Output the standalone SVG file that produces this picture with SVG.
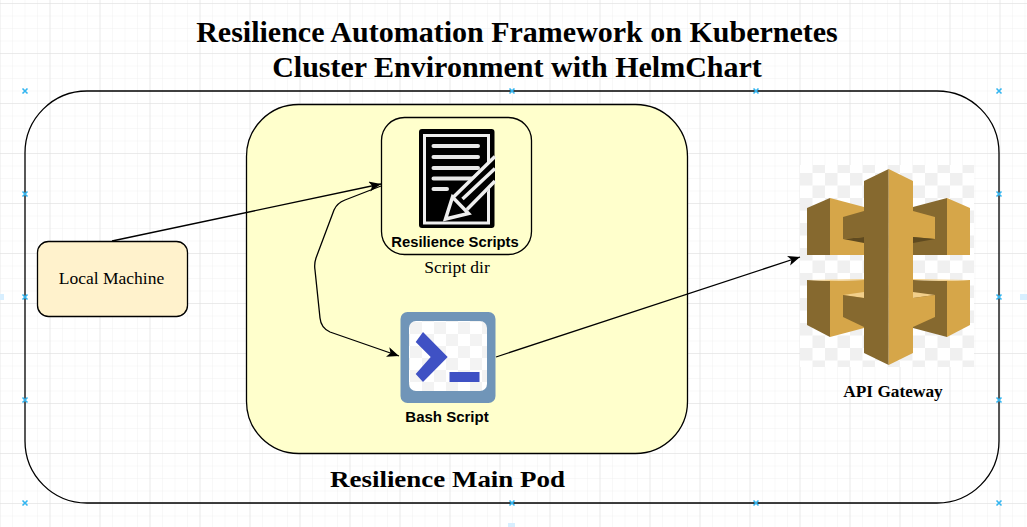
<svg xmlns="http://www.w3.org/2000/svg" width="1027" height="527" viewBox="0 0 1027 527">
<style>
.shape{stroke:#000;stroke-width:1.3}
.serif{font-family:"Liberation Serif","Times New Roman",serif;fill:#000}
.sans{font-family:"Liberation Sans",Arial,sans-serif;font-weight:700;fill:#000}
.title{font-size:30px;font-weight:700;text-anchor:middle}
.mid{text-anchor:middle}
.conn{fill:none;stroke:#000;stroke-width:1.3;marker-end:url(#arrow)}
.x{stroke:#33b5f0;stroke-width:1.6;fill:none}
.dark{fill:#86692f}
.light{fill:#d6a649}
.shadow{fill:#5f4a20}
.glow{fill:#f2cf8a}
.pen{fill:none;stroke:#efefef;stroke-width:3.5}
.faint{fill:#d8efff}
</style>
<defs>
<pattern id="minor" width="12.5" height="12.5" patternUnits="userSpaceOnUse" x="-0.5" y="3">
<path d="M0 0H12.5M0 0V12.5" fill="none" stroke="#f1f1f1" stroke-width="1"/>
</pattern>
<pattern id="major" width="50" height="50" patternUnits="userSpaceOnUse" x="-0.5" y="3">
<path d="M0 0H50M0 0V50" fill="none" stroke="#dedede" stroke-width="1"/>
</pattern>
<pattern id="check" width="25" height="25" patternUnits="userSpaceOnUse" x="800" y="173">
<rect width="25" height="25" fill="#fff"/>
<rect width="12.5" height="12.5" fill="#f0f0f0"/>
<rect x="12.500" y="12.500" width="12.5" height="12.5" fill="#f0f0f0"/>
</pattern>
<pattern id="check2" width="24" height="24" patternUnits="userSpaceOnUse" x="410" y="322">
<rect width="24" height="24" fill="#fff"/>
<rect width="12" height="12" fill="#f3f3f3"/>
<rect x="12" y="12" width="12" height="12" fill="#f3f3f3"/>
</pattern>
<marker id="arrow" markerWidth="14" markerHeight="12" refX="12" refY="5" orient="auto" markerUnits="userSpaceOnUse">
<path d="M0 0L12 5L0 10L3 5Z" fill="#000"/>
</marker>
<path id="cross" class="x" d="M-2.500 -2.500L2.500 2.500M-2.500 2.500L2.500 -2.500"/>
</defs>

<rect width="1027" height="527" fill="#fff"/>
<rect width="1027" height="527" fill="url(#minor)"/>
<rect width="1027" height="527" fill="url(#major)"/>

<g id="guides">
<rect class="faint" x="0" y="294" width="4" height="6"/>
<rect class="faint" x="1020" y="294" width="7" height="6"/>
<rect class="faint" x="508" y="523" width="7" height="4"/>
</g>

<g id="title">
<text class="serif title" x="517" y="42">Resilience Automation Framework on Kubernetes</text>
<text class="serif title" x="517" y="77">Cluster Environment with HelmChart</text>
</g>

<g id="cluster">
<rect class="shape" x="25" y="91" width="974" height="412" rx="62" ry="62" fill="none"/>
</g>

<g id="guides-top">
<use href="#cross" x="25" y="91"/><use href="#cross" x="512" y="91"/><use href="#cross" x="756" y="91"/><use href="#cross" x="999" y="91"/>
<use href="#cross" x="25" y="194"/><use href="#cross" x="999" y="194"/>
<use href="#cross" x="25" y="297"/><use href="#cross" x="999" y="297"/>
<use href="#cross" x="25" y="400"/><use href="#cross" x="999" y="400"/>
<use href="#cross" x="25" y="503"/><use href="#cross" x="512" y="503"/><use href="#cross" x="756" y="503"/><use href="#cross" x="999" y="503"/>
</g>

<g id="main-pod">
<rect class="shape" x="246.500" y="104.500" width="441" height="349" rx="52" ry="52" fill="#ffffcc"/>
<text class="serif mid" x="447.500" y="487" font-size="24" font-weight="700" textLength="235" lengthAdjust="spacingAndGlyphs">Resilience Main Pod</text>
</g>

<g id="local-machine">
<rect class="shape" x="37.500" y="241.500" width="150" height="75" rx="11" ry="11" fill="#fff2cc"/>
<text class="serif mid" x="111.500" y="284" font-size="17.500">Local Machine</text>
</g>

<g id="resilience-scripts">
<rect class="shape" x="381.500" y="117.500" width="150" height="137" rx="23" ry="23" fill="#ffffcc"/>
<rect x="419" y="129" width="75.500" height="99" rx="3" fill="#000"/>
<rect x="424.500" y="135.500" width="64" height="87.500" fill="#000" stroke="#efefef" stroke-width="3"/>
<path d="M433.500 146H478M433.500 157H478M433.500 168H478M433.500 178.500H478M433.500 189H447" fill="none" stroke="#e8e8e8" stroke-width="4" stroke-linecap="round"/>
<path d="M452 196L495 156V181L470 215Z" fill="#000"/>
<path class="pen" d="M495 156.500L453.500 197M495 181L467 209.500"/>
<path class="pen" d="M495 168.500L462.500 199"/>
<path class="pen" d="M452.500 197L445.500 219L468.500 213.500Z"/>
<text class="sans mid" x="455" y="247" font-size="14.800">Resilience Scripts</text>
<text class="serif mid" x="457" y="273" font-size="17.500">Script dir</text>
</g>

<g id="bash-script">
<rect x="400.500" y="312" width="95" height="91" rx="7" fill="#7095b8"/>
<rect x="409" y="321" width="78" height="70" rx="7" fill="url(#check2)"/>
<path d="M415.700 342L423 332L447.700 357L423 382L415.700 374L430.700 357Z" fill="#3f51c4"/>
<rect x="449.500" y="372" width="30" height="10" fill="#3f51c4"/>
<text class="sans mid" x="447" y="422" font-size="15">Bash Script</text>
</g>

<g id="api-gateway">
<rect x="800" y="165" width="174" height="202" fill="url(#check)"/>
<path class="light" d="M830 198L864 207V255H830Z"/>
<path class="dark" d="M807 208L830 198V255H807Z"/>
<path class="dark" d="M843 217L864 211V237L843 239Z"/>
<path class="shadow" d="M843 239L864 237V243Z"/>
<path class="dark" d="M913 207L947 198V255H913Z"/>
<path class="light" d="M947 198L970 208V255H947Z"/>
<path class="light" d="M913 211L935 217V239L913 237Z"/>
<path class="shadow" d="M913 237L935 239L913 243Z"/>
<path class="light" d="M830 281L864 280V328L830 337Z"/>
<path class="dark" d="M807 280L830 281V337L807 325Z"/>
<path class="glow" d="M807 280L864 279V280L830 281Z"/>
<path class="glow" d="M843 295L864 292V298Z"/>
<path class="dark" d="M843 295L864 298V327L843 317Z"/>
<path class="dark" d="M913 280L947 281V337L913 328Z"/>
<path class="light" d="M947 281L970 280V325L947 337Z"/>
<path class="glow" d="M913 279L970 280L947 281L913 280Z"/>
<path class="glow" d="M913 292L935 295L913 298Z"/>
<path class="light" d="M913 298L935 295V317L913 327Z"/>
<path class="dark" d="M864 181L888.700 169V365L864 353Z"/>
<path class="light" d="M888.700 169L913 181V353L888.700 365Z"/>
<text class="serif mid" x="893" y="397" font-size="17.300" font-weight="700">API Gateway</text>
</g>

<g id="connectors">
<path class="conn" d="M112 241L381 184"/>
<path class="conn" d="M381 186L345 200Q337 203 334 210L316 258Q314 264 315 270L320 318Q321 328 330 332L399 356"/>
<path class="conn" d="M496 357L800 257"/>
</g>
</svg>
